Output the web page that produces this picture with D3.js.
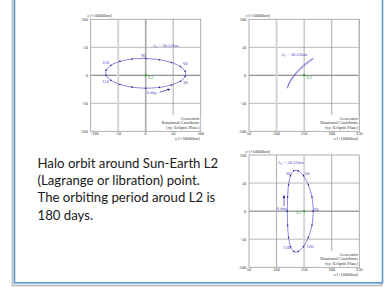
<!DOCTYPE html>
<html>
<head>
<meta charset="utf-8">
<script src="https://cdn.jsdelivr.net/npm/d3@7"></script>
<style>
  body { margin: 0; background: #fff; }
  svg { display: block; }
</style>
</head>
<body>
<svg></svg>
<script>
// orbit samples every 10 days (geocentric rotational frame, x10000 km)
const days = [0, 10, 20, 30, 40, 50, 60, 70, 80, 90, 100, 110, 120, 130, 140, 150, 160, 170];
const posX = [119.5, 120.0, 121.7, 125.3, 131.2, 139.3, 148.8, 157.7, 164.2, 166.5, 164.2, 157.7, 148.8, 139.3, 131.2, 125.3, 121.7, 120.0];
const posY = [0, 25.0, 46.9, 63.2, 71.9, 71.9, 63.2, 46.9, 25.0, 0, -25.0, -46.9, -63.2, -71.9, -71.9, -63.2, -46.9, -25.0];
const posZ = [-23.0, -21.6, -17.3, -10.5, -2.0, 7.0, 15.6, 22.8, 27.7, 30.0, 29.1, 24.8, 18.0, 9.2, -0.2, -9.0, -16.3, -21.2];
const labelDays = [0, 30, 60, 90, 120, 150];
const l2 = { x: 150, y: 0, z: 0 };

const ticksLeft = [-100, -50, 0, 50, 100];
const ticksYZ = [-100, -50, 0, 50, 100];
const ticksX = [50, 100, 150, 200, 250];
const amplitudeText = 'A\u2082 = 50.53km';
const noteLines = ['Geocentric', 'Rotational Coordinate', '(xy: Ecliptic Plane)'];
const captionLines = [
  'Halo orbit around Sun-Earth L2',
  '(Lagrange or libration) point.',
  'The orbiting period aroud L2 is',
  '180 days.'
];

const width = 385;
const height = 287;
const lineColor = '#6f66d6';
const dotColor = '#27248a';
const textBlue = '#4a46c0';
const green = '#2e9e2e';

const svg = d3.select('svg')
  .attr('width', width)
  .attr('height', height);

// slide frame
svg.append('rect')
  .attr('x', 12.5).attr('y', -10)
  .attr('width', 369).attr('height', 295.5)
  .attr('fill', 'none')
  .attr('stroke', '#c4c4c4')
  .attr('stroke-width', 2);
svg.append('rect')
  .attr('x', 14.5).attr('y', -10)
  .attr('width', 368).attr('height', 292.8)
  .attr('fill', '#fff')
  .attr('stroke', '#5b9bd5')
  .attr('stroke-width', 1.6);

const panels = [
  {
    left: 90.7, top: 19.3, w: 110, h: 112,
    hKey: 'y', vKey: 'z', hDomain: [-100, 100], hTicks: ticksYZ,
    hLabel: 'y [\u00d710000km]', vLabel: 'z [\u00d710000km]',
    amp: [152.5, 46.5], dots: true, l2Side: 1,
    vGrid: [{ v: -50, c: '#d6d6d6', w: 2 }, { v: 0, c: '#a8a8a8', w: 1.6 }, { v: 50, c: '#8a8a8a', w: 0.7 }],
    labels: {
      0: { dx: 1, dy: 5.6, a: 'start', t: '0 day' },
      30: { dx: 2.5, dy: 2.8, a: 'start' },
      60: { dx: 2.5, dy: -1.2, a: 'start' },
      90: { dx: -2.5, dy: -1.8, a: 'middle' },
      120: { dx: -2, dy: -1.2, a: 'end' },
      150: { dx: -2, dy: 2.8, a: 'end' }
    },
    arrow: [14, 4, 24, 1]
  },
  {
    left: 249, top: 19.3, w: 110.3, h: 112,
    hKey: 'x', vKey: 'z', hDomain: [50, 250], hTicks: ticksX,
    hLabel: 'x [\u00d710000km]', vLabel: 'z [\u00d710000km]',
    amp: [281, 55.5], dots: false, l2Side: 1,
    vGrid: [{ v: 100, c: '#d6d6d6', w: 2 }, { v: 150, c: '#8a8a8a', w: 0.7 }, { v: 200, c: '#8a8a8a', w: 0.7 }, { v: 250, c: '#d6d6d6', w: 2 }],
    labels: {},
    arrow: null
  },
  {
    left: 249, top: 155, w: 110.3, h: 112.3,
    hKey: 'x', vKey: 'y', hDomain: [50, 250], hTicks: ticksX,
    hLabel: 'x [\u00d710000km]', vLabel: 'y [\u00d710000km]',
    amp: [277.5, 163.5], dots: true, l2Side: -1,
    vGrid: [{ v: 100, c: '#8a8a8a', w: 0.7 }, { v: 150, c: '#d6d6d6', w: 2 }, { v: 200, c: '#8a8a8a', w: 0.7 }],
    labels: {
      0: { dx: -0.5, dy: -1, a: 'end', t: '0 day' },
      30: { dx: -0.3, dy: -0.6, a: 'end' },
      60: { dx: 1.5, dy: -0.6, a: 'start' },
      90: { dx: 0.8, dy: -0.6, a: 'start' },
      120: { dx: 3, dy: 0.9, a: 'start' },
      150: { dx: -0.5, dy: 2.8, a: 'end' }
    },
    arrow: [-3.3, -5, -3.3, -15.5]
  }
];

const defs = svg.append('defs');
defs.append('marker')
  .attr('id', 'head')
  .attr('viewBox', '0 0 10 10')
  .attr('refX', 8).attr('refY', 5)
  .attr('markerWidth', 4).attr('markerHeight', 4)
  .attr('orient', 'auto')
  .append('path')
  .attr('d', 'M0,0 L10,5 L0,10 z')
  .attr('fill', dotColor);

const orbit = days.map((d, i) => ({ day: d, x: posX[i], y: posY[i], z: posZ[i] }));

panels.forEach((p, pi) => {
  const sx = d3.scaleLinear().domain(p.hDomain).range([p.left, p.left + p.w]);
  const sy = d3.scaleLinear().domain([-100, 100]).range([p.top + p.h, p.top]);
  const g = svg.append('g');

  defs.append('clipPath').attr('id', 'clip' + pi)
    .append('rect')
    .attr('x', p.left).attr('y', p.top)
    .attr('width', p.w).attr('height', p.h);

  // grid
  const grid = g.append('g').attr('clip-path', `url(#clip${pi})`);
  grid.selectAll('.hg')
    .data(ticksLeft.filter(t => Math.abs(t) < 100))
    .join('line')
    .attr('x1', p.left).attr('x2', p.left + p.w)
    .attr('y1', d => sy(d)).attr('y2', d => sy(d))
    .attr('stroke', d => d === 0 ? '#555' : '#8a8a8a')
    .attr('stroke-width', d => d === 0 ? 0.8 : 0.6);
  grid.selectAll('.vg')
    .data(p.vGrid)
    .join('line')
    .attr('x1', d => sx(d.v)).attr('x2', d => sx(d.v))
    .attr('y1', p.top).attr('y2', p.top + p.h)
    .attr('stroke', d => d.c)
    .attr('stroke-width', d => d.w);

  // frame
  g.append('rect')
    .attr('x', p.left).attr('y', p.top)
    .attr('width', p.w).attr('height', p.h)
    .attr('fill', 'none')
    .attr('stroke', '#9a9a9a')
    .attr('stroke-width', 0.8);

  // tick labels
  const tickFont = 'Liberation Serif, Times New Roman, serif';
  g.selectAll('.yt')
    .data(ticksLeft)
    .join('text')
    .attr('x', p.left - 2.8)
    .attr('y', d => sy(d) + 1.6)
    .attr('text-anchor', 'end')
    .attr('font-family', tickFont)
    .attr('font-size', 4.3)
    .attr('fill', '#333')
    .text(d => d);
  g.selectAll('.xt')
    .data(p.hTicks)
    .join('text')
    .attr('x', d => sx(d))
    .attr('y', p.top + p.h + 3.6)
    .attr('text-anchor', (d, i) => i === 0 && pi === 0 ? 'start' : 'middle')
    .attr('font-family', tickFont)
    .attr('font-size', 4.3)
    .attr('fill', '#333')
    .text(d => d);

  // axis titles
  g.append('text')
    .attr('x', p.left - 3.5)
    .attr('y', p.top - 2)
    .attr('font-family', tickFont)
    .attr('font-size', 4.3)
    .attr('fill', '#333')
    .text(p.vLabel);
  g.append('text')
    .attr('x', p.left + p.w - 1)
    .attr('y', p.top + p.h + 8.3)
    .attr('text-anchor', 'end')
    .attr('font-family', tickFont)
    .attr('font-size', 4.3)
    .attr('fill', '#333')
    .text(p.hLabel);

  // note box
  g.append('rect')
    .attr('x', p.left + p.w - 38)
    .attr('y', p.top + p.h - 16)
    .attr('width', 37.5)
    .attr('height', 15.5)
    .attr('fill', '#fff');
  g.selectAll('.note')
    .data(noteLines)
    .join('text')
    .attr('x', p.left + p.w - 1)
    .attr('y', (d, i) => p.top + p.h - 11.4 + i * 4.5)
    .attr('text-anchor', 'end')
    .attr('font-family', tickFont)
    .attr('font-size', 4.3)
    .attr('fill', '#333')
    .text(d => d);

  // orbit
  const line = d3.line()
    .x(d => sx(d[p.hKey]))
    .y(d => sy(d[p.vKey]))
    .curve(d3.curveCardinalClosed.tension(0.2));
  g.append('path')
    .datum(orbit)
    .attr('d', line)
    .attr('fill', 'none')
    .attr('stroke', lineColor)
    .attr('stroke-width', 0.8);

  if (p.dots) {
    g.selectAll('.dot')
      .data(orbit)
      .join('circle')
      .attr('cx', d => sx(d[p.hKey]))
      .attr('cy', d => sy(d[p.vKey]))
      .attr('r', 0.8)
      .attr('fill', dotColor);
  }

  // day labels
  g.selectAll('.dl')
    .data(orbit.filter(d => labelDays.includes(d.day) && p.labels[d.day]))
    .join('text')
    .attr('x', d => sx(d[p.hKey]) + p.labels[d.day].dx)
    .attr('y', d => sy(d[p.vKey]) + p.labels[d.day].dy)
    .attr('text-anchor', d => p.labels[d.day].a)
    .attr('font-family', tickFont)
    .attr('font-size', 4.6)
    .attr('fill', textBlue)
    .text(d => p.labels[d.day].t || d.day);

  if (p.arrow) {
    const start = orbit[0];
    const ax = sx(start[p.hKey]);
    const ay = sy(start[p.vKey]);
    g.append('line')
      .attr('x1', ax + p.arrow[0]).attr('y1', ay + p.arrow[1])
      .attr('x2', ax + p.arrow[2]).attr('y2', ay + p.arrow[3])
      .attr('stroke', dotColor)
      .attr('stroke-width', 0.7)
      .attr('marker-end', 'url(#head)');
  }

  // amplitude text
  g.append('text')
    .attr('x', p.amp[0])
    .attr('y', p.amp[1])
    .attr('font-family', tickFont)
    .attr('font-size', 4.6)
    .attr('fill', textBlue)
    .text(amplitudeText);

  // L2 point
  const lx = sx(l2[p.hKey]);
  const ly = sy(l2[p.vKey]);
  g.append('rect')
    .attr('x', lx - 1).attr('y', ly - 1)
    .attr('width', 2).attr('height', 2)
    .attr('fill', green);
  g.append('text')
    .attr('x', lx + (p.l2Side > 0 ? 2.5 : -2.5))
    .attr('y', ly + 3.2)
    .attr('text-anchor', p.l2Side > 0 ? 'start' : 'end')
    .attr('font-family', tickFont)
    .attr('font-size', 4.8)
    .attr('fill', green)
    .text('L2');
});

// caption
svg.append('g')
  .selectAll('text')
  .data(captionLines)
  .join('text')
  .attr('x', 37.5)
  .attr('y', (d, i) => 167.5 + i * 17.4)
  .attr('font-family', 'Lato, "Open Sans", sans-serif')
  .attr('font-size', 13.2)
  .attr('fill', '#1a1a1a')
  .text(d => d);
</script>
</body>
</html>
